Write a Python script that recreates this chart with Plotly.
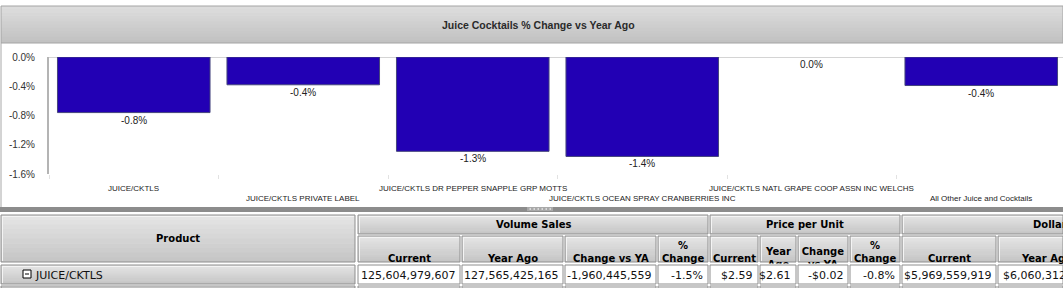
import plotly.graph_objects as go

# ---------------- data ----------------
chart_title = "Juice Cocktails % Change vs Year Ago"
categories = [
    "JUICE/CKTLS",
    "JUICE/CKTLS PRIVATE LABEL",
    "JUICE/CKTLS DR PEPPER SNAPPLE GRP MOTTS",
    "JUICE/CKTLS OCEAN SPRAY CRANBERRIES INC",
    "JUICE/CKTLS NATL GRAPE COOP ASSN INC WELCHS",
    "All Other Juice and Cocktails",
]
pct_change = [-0.76, -0.38, -1.29, -1.36, 0.0, -0.39]
y_ticks = [0.0, -0.4, -0.8, -1.2, -1.6]

product_header = "Product"
group_headers = ["Volume Sales", "Price per Unit", "Dollar Sales"]
sub_headers = [
    "Current", "Year Ago", "Change vs YA", "%<br>Change",
    "Current", "Year<br>Ago", "Change<br>vs YA", "%<br>Change",
    "Current", "Year Ago",
]
row_label = "JUICE/CKTLS"
row_values = [
    "125,604,979,607", "127,565,425,165", "-1,960,445,559", "-1.5%",
    "$2.59", "$2.61", "-$0.02", "-0.8%",
    "$5,969,559,919", "$6,060,312,513",
]

# ---------------- layout constants (pixels) ----------------
W, H = 1063, 288
PLOT_L, PLOT_T, PLOT_B = 49, 57, 174
CAT_W = 169.5

def cx_(px):
    return min(max(px, 0), W)

def cy_(py):
    return min(max(py, 0), H)

def X(px):
    return cx_(px) / W

def Y(py):
    return 1 - cy_(py) / H

shapes = []
annotations = []

def rect(x0, y0, x1, y1, fill=None, line=None, lw=1):
    d = dict(type="rect", xref="paper", yref="paper",
             x0=X(x0), x1=X(x1), y0=Y(y1), y1=Y(y0), layer="above")
    d["fillcolor"] = fill if fill else "rgba(0,0,0,0)"
    d["line"] = dict(color=line, width=lw) if line else dict(width=0)
    shapes.append(d)

def hline(x0, x1, y, color, lw=1):
    shapes.append(dict(type="line", xref="paper", yref="paper",
                       x0=X(x0), x1=X(x1), y0=Y(y), y1=Y(y),
                       line=dict(color=color, width=lw), layer="above"))

def vline(x, y0, y1, color, lw=1):
    shapes.append(dict(type="line", xref="paper", yref="paper",
                       x0=X(x), x1=X(x), y0=Y(y0), y1=Y(y1),
                       line=dict(color=color, width=lw), layer="above"))

def mix(c1, c2, t):
    return "#%02x%02x%02x" % tuple(int(round(a + (b - a) * t)) for a, b in zip(c1, c2))

def grad(x0, y0, x1, y1, top, bot, n=10):
    h = (y1 - y0) / n
    for i in range(n):
        rect(x0, y0 + i * h, x1, min(y0 + (i + 1) * h + 0.6, y1), fill=mix(top, bot, i / (n - 1)))

def header_cell(x0, y0, x1, y1):
    grad(x0, y0, x1, y1, (228, 228, 228), (198, 198, 198))
    hline(x0 + 1, x1 - 1, y0 + 1.5, "#f4f4f4", 1)
    vline(x0 + 1.5, y0 + 1, y1 - 1, "#f4f4f4", 1)
    rect(x0, y0, x1, y1, line="#8e8e8e", lw=1)

def text(x, y, s, size, color="#000", family="DejaVu Sans", bold=False,
         xanchor="center", yanchor="middle", **kw):
    annotations.append(dict(
        xref="paper", yref="paper", x=X(x), y=Y(y), text=("<b>%s</b>" % s) if bold else s,
        showarrow=False, xanchor=xanchor, yanchor=yanchor,
        font=dict(size=size, color=color, family=family), **kw))

def edge_text(x, y, s, size, bold=False, color="#000"):
    # text running past the right edge of the view: clipped to the visible part
    annotations.append(dict(
        xref="paper", yref="paper", x=X(x), y=Y(y), text=("<b>%s</b>" % s) if bold else s,
        showarrow=False, xanchor="left", yanchor="middle", align="left",
        width=W - x, borderpad=0,
        font=dict(size=size, color=color, family="DejaVu Sans")))

# ---------------- chart panel ----------------
grad(1, 6, W, 43, (220, 220, 220), (194, 194, 194), n=12)
rect(1, 6, W + 2, 43, line="#a4a4a4", lw=1)
vline(1, 43, 207, "#a8a8a8", 1)
text(538.5, 25, chart_title, 10.5, color="#2a2a2a",
     family="Liberation Sans, Arial, sans-serif", bold=True)

# splitter
rect(0, 207, W, 212, fill="#8c8c8c")
rect(527, 207, 553, 211, fill="#a9a9a9")
for i in range(6):
    rect(529.5 + i * 4, 208.3, 531 + i * 4, 209.8, fill="#e8e8e8")

# ---------------- table ----------------
col_edges = [(358, 460), (462, 563), (565, 656), (658, 708),
             (710, 758), (760, 796), (798, 848), (850, 900),
             (902, 996), (998, 1093)]
group_spans = [(0, 4), (4, 8), (8, 10)]
G_TOP, G_BOT = 215, 234
S_TOP, S_BOT = 236, 262
R_TOP, R_BOT = 265, 284
R2_TOP = 286
CLIPPED = {5, 6}

header_cell(1, G_TOP, 355, S_BOT)
text(178, 238.5, product_header, 10, bold=True)

for gi, (a, b) in enumerate(group_spans):
    x0 = col_edges[a][0]
    x1 = col_edges[b - 1][1] if b < 10 else W + 5
    header_cell(x0, G_TOP, x1, G_BOT)
    if b < 10:
        text((x0 + x1) / 2, 224.5, group_headers[gi], 10, bold=True)
    else:
        edge_text(1032, 224.5, group_headers[gi], 10, bold=True)

for ci, (x0, x1) in enumerate(col_edges):
    header_cell(x0, S_TOP, x1, S_BOT)
    cx = (x0 + x1) / 2
    if ci == 9:
        edge_text(1020, 258.3, sub_headers[ci], 10, bold=True)
    elif ci in CLIPPED:
        annotations.append(dict(
            xref="paper", yref="paper", x=X(cx), y=Y(244.5),
            text="<b>%s</b>" % sub_headers[ci], showarrow=False,
            xanchor="center", yanchor="top", valign="top", borderpad=0,
            height=17.5, width=x1 - x0 - 2,
            font=dict(size=10, color="#000", family="DejaVu Sans")))
    else:
        annotations.append(dict(
            xref="paper", yref="paper", x=X(cx), y=Y(265),
            text="<b>%s</b>" % sub_headers[ci], showarrow=False,
            xanchor="center", yanchor="bottom", valign="bottom", borderpad=0,
            font=dict(size=10, color="#000", family="DejaVu Sans")))

# data row
header_cell(1, R_TOP, 355, R_BOT)
rect(23, 270, 31, 278, fill="#ffffff", line="#000000", lw=1)
hline(25, 29, 274, "#000000", 1)
text(33, 275, row_label, 11, color="#111", xanchor="left")
for ci, (x0, x1) in enumerate(col_edges):
    rect(x0, R_TOP, x1, R_BOT, fill="#ffffff", line="#8e8e8e", lw=1)
    if ci == 9:
        edge_text(1002, 275, row_values[ci], 11, color="#111")
    else:
        text(x1 - 3, 275, row_values[ci], 11, color="#111", xanchor="right")

# next row (partially visible)
header_cell(1, R2_TOP, 355, H + 3)
for (x0, x1) in col_edges:
    rect(x0, R2_TOP, x1, H + 3, fill="#ffffff", line="#8e8e8e", lw=1)

# ---------------- bars ----------------
fig = go.Figure()
fig.add_trace(go.Bar(
    x=categories, y=pct_change, width=0.9,
    marker=dict(color="#2200B4",
                line=dict(color="#45457c", width=[1 if v != 0 else 0 for v in pct_change])),
    hoverinfo="skip",
))

for i, (c, v) in enumerate(zip(categories, pct_change)):
    annotations.append(dict(
        xref="x", yref="y", x=c, y=v, text="%.1f%%" % v, showarrow=False,
        yanchor="top", xanchor="center", yshift=0,
        font=dict(size=10, color="#222", family="Liberation Sans, Arial, sans-serif")))
    annotations.append(dict(
        xref="x", yref="paper", x=c, y=Y(188 if i % 2 == 0 else 198), text=c,
        showarrow=False, yanchor="middle", xanchor="center",
        font=dict(size=8, color="#222", family="Liberation Sans, Arial, sans-serif")))

n_vis = (W - PLOT_L) / CAT_W
fig.update_layout(
    template="none",
    width=W, height=H, margin=dict(l=0, r=0, t=0, b=0, pad=0, autoexpand=False),
    paper_bgcolor="#ffffff", plot_bgcolor="#ffffff",
    showlegend=False,
    xaxis=dict(domain=[X(PLOT_L), 1], range=[-0.5, -0.5 + n_vis], automargin=False,
               showgrid=False, zeroline=False, showline=False,
               showticklabels=False, ticks="outside", tickson="boundaries",
               ticklen=4, tickcolor="#e2e2e2", tickwidth=1),
    yaxis=dict(domain=[Y(PLOT_B), Y(PLOT_T)], range=[-1.6, 0], automargin=False,
               tickvals=y_ticks, ticktext=["%.1f%%" % t for t in y_ticks],
               showgrid=False, zeroline=True, zerolinecolor="#d4d4d4", zerolinewidth=1,
               showline=True, linecolor="#b4b4b4", linewidth=2,
               ticks="", ticklabelstandoff=10,
               tickfont=dict(size=10, color="#333", family="Liberation Sans, Arial, sans-serif")),
    shapes=shapes, annotations=annotations,
)

fig.write_html("out.html")
